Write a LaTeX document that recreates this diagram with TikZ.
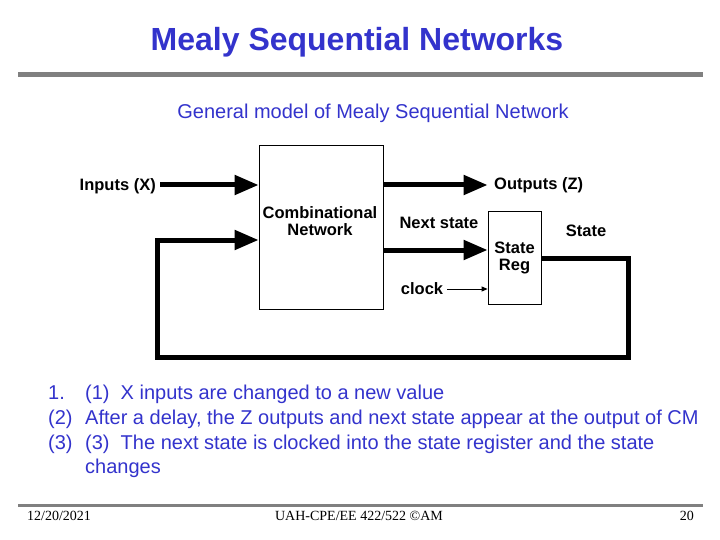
\documentclass[tikz,border=0pt]{standalone}
\usepackage{fontspec}
\setmainfont{Liberation Sans}
\newfontfamily\footfont{Liberation Serif}
\usetikzlibrary{arrows.meta,positioning}

\definecolor{slideblue}{RGB}{51,51,204}
\definecolor{rulegray}{RGB}{128,128,128}

\tikzset{
    blk/.style={draw, line width=0.8pt, fill=white},
    lbl/.style={font=\fontsize{16.5}{17}\selectfont\bfseries, align=center, inner sep=1pt},
    bus/.style={line width=5pt, -{Triangle[length=24pt,width=19pt]}},
    wire/.style={line width=0.8pt, -{Triangle[length=6pt,width=5pt]}},
    item/.style={font=\fontsize{20}{22}\selectfont, text=slideblue, anchor=base west, inner sep=0pt},
    foot/.style={font=\footfont\fontsize{14}{15}\selectfont, inner sep=0pt}
}

\begin{document}
\begin{tikzpicture}[x=1pt, y=-1pt]
    \useasboundingbox (0,0) rectangle (720,540);

    % title and rules
    \node[font=\fontsize{32}{34}\selectfont\bfseries, text=slideblue] (title) at (357,42) {Mealy Sequential Networks};
    \draw[rulegray, line width=5pt] (18,75) -- (703,75);
    \node[font=\fontsize{20}{22}\selectfont, text=slideblue] (sub) at (373,113) {General model of Mealy Sequential Network};

    % blocks
    \node[blk, minimum width=124pt, minimum height=164pt] (cn) at (321,227) {};
    \node[lbl] (cntxt) at (320,221) {Combinational\\Network};
    \node[blk, minimum width=53pt, minimum height=93pt, lbl] (sr) at (514.5,257.5) {State\\Reg};

    % labels
    \node[lbl, anchor=east] (inx) at (157,186) {Inputs (X)};
    \node[lbl, anchor=west] (outz) at (493,185) {Outputs (Z)};
    \node[lbl] (nxt) at (439,223) {Next state};
    \node[lbl] (st) at (586,231) {State};
    \node[lbl] (clk) at (422,289) {clock};

    \coordinate (fbr) at (628,357);
    \coordinate (fbl) at (157,357);

    % connectors
    \draw[bus] ([xshift=3pt]inx.east |- 0,185) -- (cn.west |- 0,185);
    \draw[bus] (cn.east |- 0,185) -- (sr.west |- 0,185);
    \draw[bus] (cn.east |- 0,250) -- (sr.west |- 0,250);
    \draw[wire] ([xshift=3pt]clk.east) -- (sr.west |- clk.east);
    \draw[bus] (sr.east |- 0,258) -| (fbr) -- (fbl) |- (cn.west |- 0,240);

    % steps
    \node[item] (n1) at (48,399) {1.};
    \node[item] (t1) at (85,399) {(1)\ \ X inputs are changed to a new value};
    \node[item] (n2) at (48,424) {(2)};
    \node[item] (t2) at (85,424) {After a delay, the Z outputs and next state appear at the output of CM};
    \node[item] (n3) at (48,449) {(3)};
    \node[item] (t3) at (85,449) {(3)\ \ The next state is clocked into the state register and the state};
    \node[item] (t4) at (85,473) {changes};

    % footer
    \draw[rulegray, line width=3pt] (18,505) -- (703,505);
    \node[foot, anchor=west] (date) at (27,516) {12/20/2021};
    \node[foot] (course) at (359,516) {UAH-CPE/EE 422/522 ©AM};
    \node[foot, anchor=east] (page) at (694,516) {20};
\end{tikzpicture}
\end{document}
